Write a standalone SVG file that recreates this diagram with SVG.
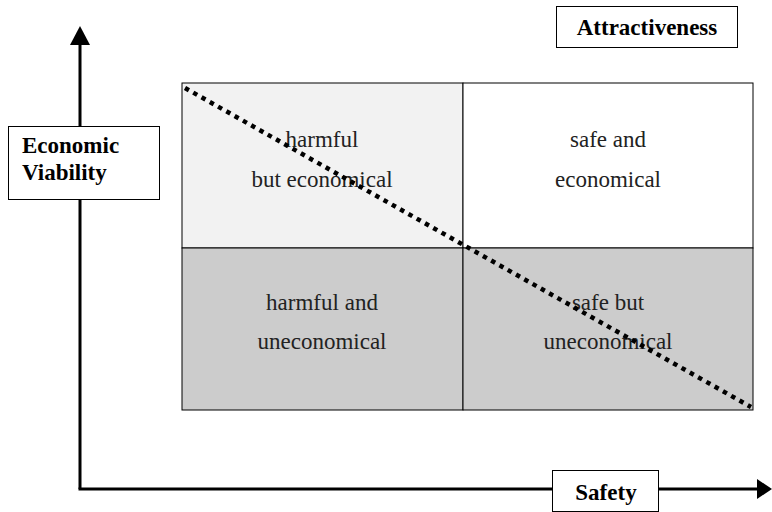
<svg xmlns="http://www.w3.org/2000/svg" width="772" height="512" viewBox="0 0 772 512">
<style>
.cell{stroke:#000;stroke-width:1}
.lbl{font-family:"Liberation Serif","Times New Roman",serif;font-size:23px;fill:#222;text-anchor:middle}
.bold{font-family:"Liberation Serif","Times New Roman",serif;font-size:23px;font-weight:bold;fill:#000}
.box{fill:#fff;stroke:#000;stroke-width:1}
.axis{stroke:#000;stroke-width:3;fill:none}
</style>
<rect width="772" height="512" fill="#fff"/>
<g id="connectors">
<line class="axis" x1="80" y1="44" x2="80" y2="489"/>
<line class="axis" x1="78.5" y1="489" x2="758" y2="489"/>
<polygon points="80,26 70,45 90,45" fill="#000"/>
<polygon points="772,489 757,479 757,499" fill="#000"/>
</g>
<g id="quadrants">
<rect class="cell" x="182" y="83" width="281" height="165" fill="#f2f2f2"/>
<rect class="cell" x="463" y="83" width="290" height="165" fill="#fff"/>
<rect class="cell" x="182" y="248" width="281" height="162" fill="#cccccc"/>
<rect class="cell" x="463" y="248" width="290" height="162" fill="#cccccc"/>
</g>
<g id="q-tl"><text class="lbl" x="322" y="147">harmful</text><text class="lbl" x="322" y="187">but economical</text></g>
<g id="q-tr"><text class="lbl" x="608" y="147">safe and</text><text class="lbl" x="608" y="187">economical</text></g>
<g id="q-bl"><text class="lbl" x="322" y="310">harmful and</text><text class="lbl" x="322" y="349">uneconomical</text></g>
<g id="q-br"><text class="lbl" x="608" y="310">safe but</text><text class="lbl" x="608" y="349">uneconomical</text></g>
<g id="diagonal"><line x1="185" y1="88" x2="751" y2="407" stroke="#000" stroke-width="4.5" stroke-dasharray="4.5 5"/></g>
<g id="economic-viability"><rect class="box" x="8.5" y="126.5" width="151" height="73"/><text class="bold" x="22" y="153">Economic</text><text class="bold" x="22" y="180">Viability</text></g>
<g id="attractiveness"><rect class="box" x="556.5" y="6.5" width="181" height="41"/><text class="bold" x="647" y="35" text-anchor="middle">Attractiveness</text></g>
<g id="safety"><rect class="box" x="552.5" y="470.5" width="106" height="41"/><text class="bold" x="606" y="500" text-anchor="middle">Safety</text></g>
</svg>
